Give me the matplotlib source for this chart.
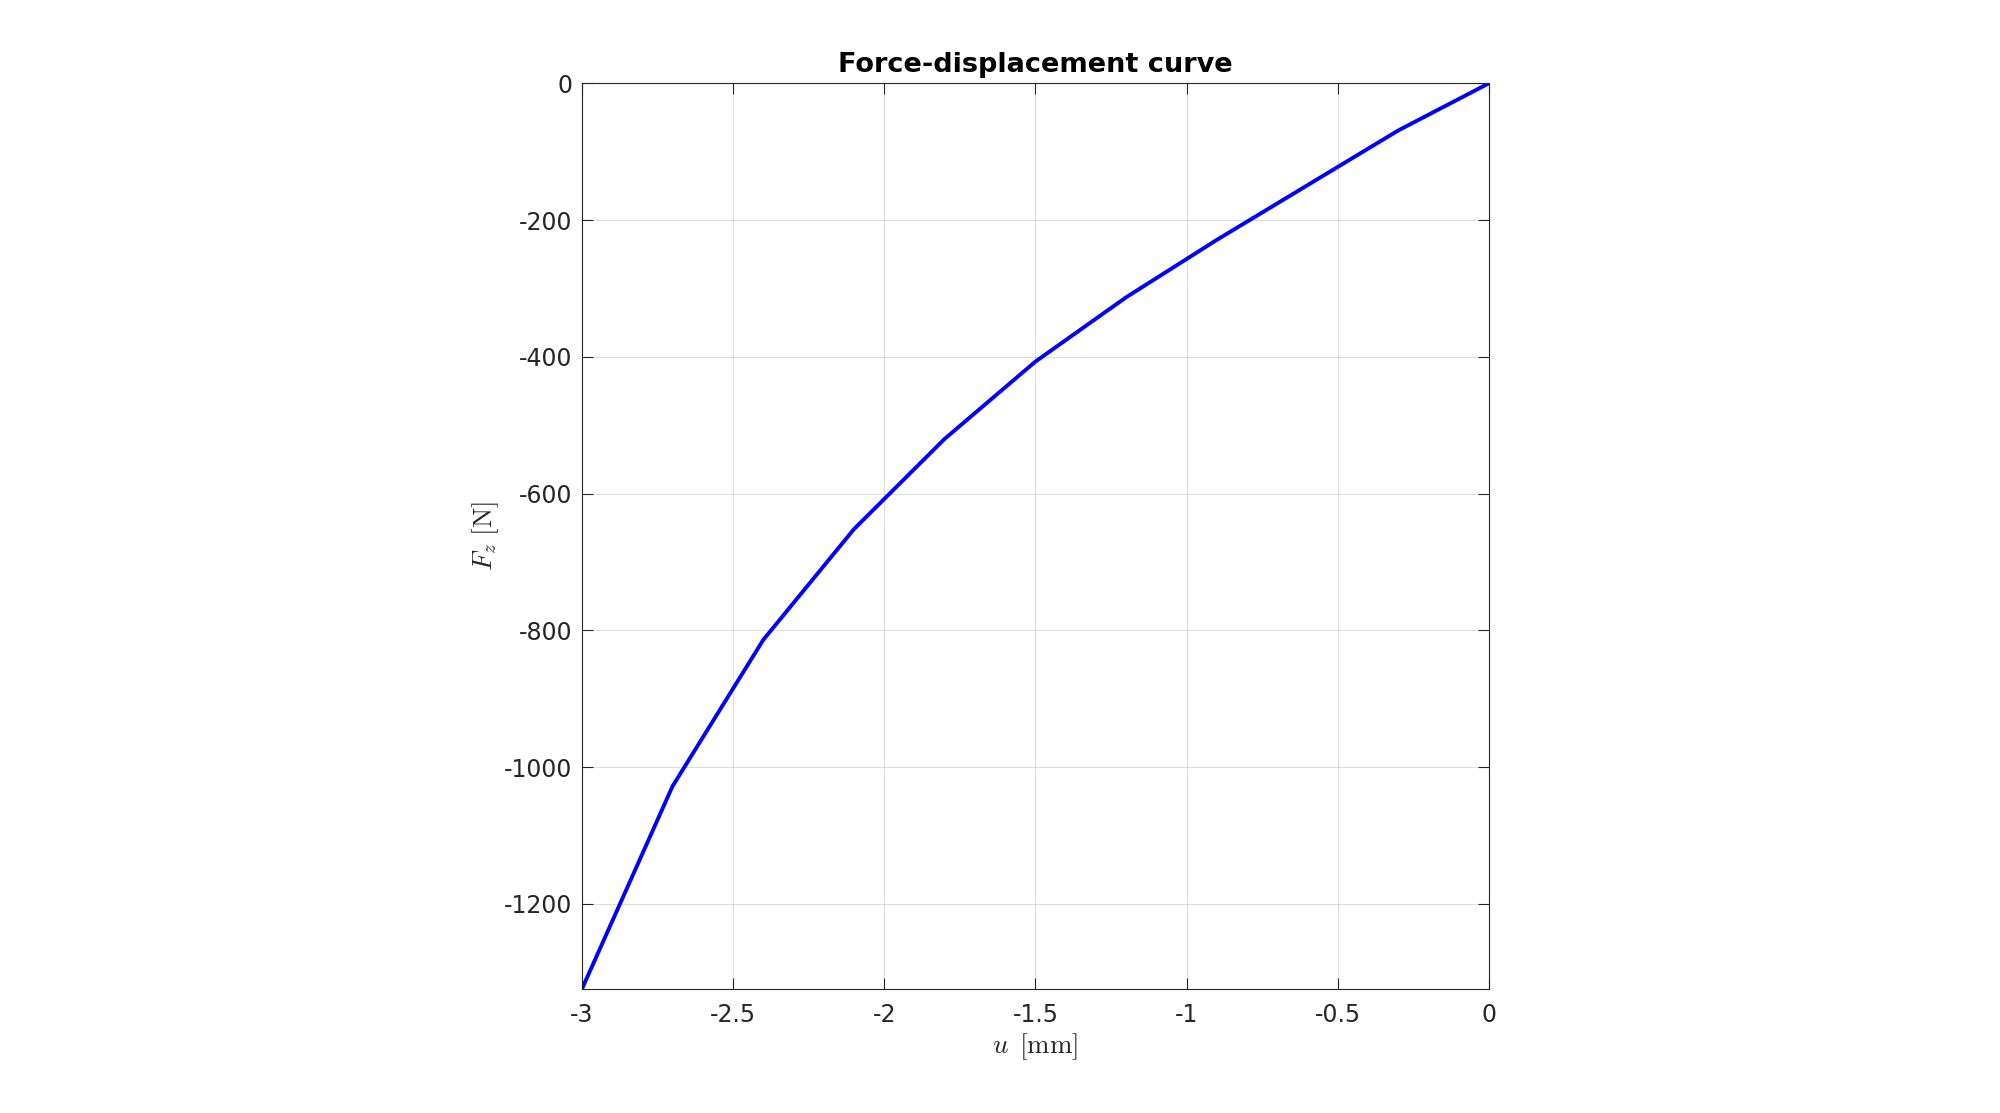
import numpy as np
import matplotlib.pyplot as plt

# displacement [mm] and reaction force [N]
u_mm = [-3.0, -2.7, -2.4, -2.1, -1.8, -1.5, -1.2, -0.9, -0.6, -0.3, 0.0]
fz_n = [-1325, -1028, -814, -652, -520, -407, -313, -229, -149, -69, 0]

xticks = [-3, -2.5, -2, -1.5, -1, -0.5, 0]
xticklabels = ["-3", "-2.5", "-2", "-1.5", "-1", "-0.5", "0"]
yticks = [-1200, -1000, -800, -600, -400, -200, 0]

plt.rcParams["mathtext.fontset"] = "cm"
plt.rcParams["axes.unicode_minus"] = False

fig = plt.figure(figsize=(20, 11.13), dpi=100)
ax = fig.add_axes([0.2909, 0.1111, 0.4536, 0.8141])

ax.plot(u_mm, fz_n, color=(0, 0, 1), linewidth=2.8)

ax.set_xlim(min(u_mm), max(u_mm))
ax.set_ylim(min(fz_n), max(fz_n))
ax.set_xticks(xticks)
ax.set_xticklabels(xticklabels)
ax.set_yticks(yticks)

# matlab-ish look
dark = (0.15, 0.15, 0.15)
ax.grid(True, color=(0.15, 0.15, 0.15), alpha=0.15, linewidth=0.8)
ax.set_axisbelow(True)
ax.tick_params(direction="in", length=8, width=0.8, colors=dark,
               labelsize=17, top=True, right=True)
ax.tick_params(axis="x", pad=10)
ax.tick_params(axis="y", pad=7)
for s in ax.spines.values():
    s.set_color(dark)
    s.set_linewidth(0.8)

ax.set_xlabel(r"$u\ \,[\mathrm{mm}]$", fontsize=19.5, color=dark, labelpad=3)
ax.set_ylabel(r"$F_z\ [\mathrm{N}]$", fontsize=19.5, color=dark, labelpad=2)
ax.set_title("Force-displacement curve", fontsize=19.5, fontweight="bold",
             pad=8)

fig.savefig("out.png", dpi=100, facecolor="white")
